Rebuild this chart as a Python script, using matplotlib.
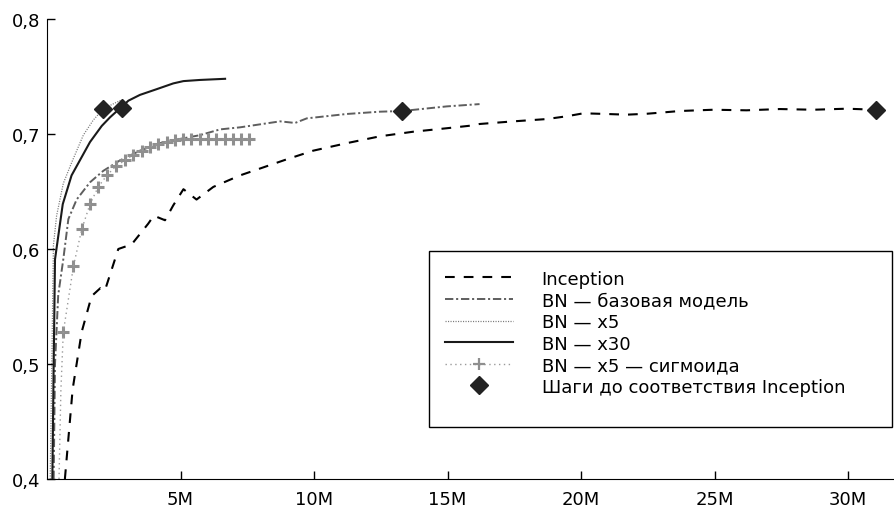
import numpy as np
import matplotlib
matplotlib.use('Agg')
import matplotlib.pyplot as plt
from matplotlib.patches import Rectangle

plt.rcParams['font.family'] = ['DejaVu Sans']
plt.rcParams['lines.scale_dashes'] = False

# steps in millions, accuracy
inc_x = [0.67, 0.96, 1.30, 1.67, 2.0, 2.17, 2.67, 3.17, 3.79, 4.0, 4.42, 4.73, 5.11, 5.6, 6.23, 7.23,
         8.98, 9.97, 11.22, 12.47, 13.72, 14.97, 15.84, 16.2, 17.47, 18.72, 19.46, 20.09, 20.96,
         21.7, 22.46, 23.2, 23.7, 24.96, 26.2, 27.45, 28.7, 29.95, 31.05]
inc_y = [0.400, 0.478, 0.528, 0.559, 0.566, 0.564, 0.600, 0.604, 0.622, 0.629, 0.625, 0.638, 0.652, 0.643,
         0.654, 0.664, 0.678, 0.6855, 0.692, 0.698, 0.702, 0.705, 0.7072, 0.7087, 0.711, 0.713,
         0.7154, 0.718, 0.7174, 0.7168, 0.7176, 0.719, 0.720, 0.7211, 0.7206, 0.7217, 0.7211,
         0.722, 0.7211]

base_x = [0.25, 0.3, 0.42, 0.61, 0.80, 1.11, 1.61, 2.11, 2.73, 3.48, 4.23, 4.98, 5.73, 6.48, 7.23,
          8.73, 9.29, 9.73, 11.22, 12.47, 13.31, 14.97, 16.2]
base_y = [0.400, 0.500, 0.560, 0.591, 0.626, 0.643, 0.658, 0.668, 0.677, 0.6855, 0.692, 0.6957,
          0.699, 0.704, 0.7058, 0.711, 0.7096, 0.7136, 0.7174, 0.7194, 0.720, 0.724, 0.726]

x5_x = [0.12, 0.18, 0.24, 0.36, 0.61, 0.92, 1.36, 1.73, 2.11, 2.73, 2.85]
x5_y = [0.400, 0.500, 0.603, 0.629, 0.657, 0.675, 0.699, 0.712, 0.722, 0.729, 0.7295]

x30_x = [0.2, 0.25, 0.30, 0.59, 0.92, 1.61, 2.05, 2.36, 3.05, 3.48, 4.11, 4.73, 5.11, 5.73, 6.67]
x30_y = [0.400, 0.500, 0.591, 0.639, 0.664, 0.693, 0.707, 0.7145, 0.729, 0.734, 0.739, 0.744,
         0.746, 0.747, 0.748]

sig_x = [0.45, 0.52, 0.61, 0.99, 1.30, 1.61, 1.92, 2.24, 2.58, 2.92, 3.23, 3.55, 3.86, 4.17, 4.48,
         4.79, 5.10, 5.41, 5.72, 6.03, 6.34, 6.65, 6.96, 7.27, 7.58]
sig_y = [0.400, 0.477, 0.5275, 0.585, 0.617, 0.639, 0.654, 0.664, 0.672, 0.677, 0.682, 0.6855,
         0.689, 0.691, 0.693, 0.6948, 0.6957, 0.6957, 0.6957, 0.6957, 0.6957, 0.6957, 0.6957,
         0.6957, 0.6957]

match_x = [2.11, 2.80, 13.31, 31.05]
match_y = [0.722, 0.7226, 0.720, 0.7211]

xticks = [5, 10, 15, 20, 25, 30]
xtick_labels = ['5M', '10M', '15M', '20M', '25M', '30M']
yticks = [0.4, 0.5, 0.6, 0.7, 0.8]
ytick_labels = ['0,4', '0,5', '0,6', '0,7', '0,8']

labels = ['Inception', 'BN — базовая модель', 'BN — x5', 'BN — x30', 'BN — x5 — сигмоида',
          'Шаги до соответствия Inception']

fig = plt.figure(figsize=(8.95, 5.10), dpi=100)
ax = fig.add_axes([47 / 895, 30 / 510, 848 / 895, 460 / 510])

ax.plot(inc_x, inc_y, color='black', lw=1.5, dashes=(7, 6.5), label=labels[0])
ax.plot(base_x, base_y, color='#5e5e5e', lw=1.4, dashes=(6, 2, 1.5, 2), label=labels[1])
ax.plot(x5_x, x5_y, color='#7a7a7a', lw=0.9, dashes=(0.8, 1.0), label=labels[2])
ax.plot(x30_x, x30_y, color='#1a1a1a', lw=1.5, label=labels[3])
ax.plot(sig_x[2:], sig_y[2:], color='#8f8f8f', lw=0, marker='+', markersize=9, mew=2.2)
ax.plot(sig_x, sig_y, color='#9a9a9a', lw=1.0, dashes=(1, 2.5))
ax.plot([], [], color='#9a9a9a', lw=1.0, dashes=(1, 2.5), marker='+', markersize=9,
        mew=1.6, markeredgecolor='#8f8f8f', label=labels[4])
ax.plot(match_x, match_y, ls='none', marker='D', markersize=9, color='#222222', label=labels[5])

ax.set_xlim(0, 31.76)
ax.set_ylim(0.4, 0.8)
ax.set_xticks(xticks)
ax.set_xticklabels(xtick_labels)
ax.set_yticks(yticks)
ax.set_yticklabels(ytick_labels)
ax.spines['top'].set_visible(False)
ax.spines['right'].set_visible(False)
ax.tick_params(direction='in', length=6, width=1, labelsize=13)
ax.tick_params(axis='x', pad=8)
ax.tick_params(axis='y', pad=5)

leg = ax.legend(loc='upper left', bbox_to_anchor=(0.469, 0.455), frameon=False, fontsize=13,
                handlelength=3.77, handletextpad=1.6, borderpad=0, borderaxespad=0,
                labelspacing=0.2)
ax.add_patch(Rectangle((0.451, 0.112), 0.546, 0.384, transform=ax.transAxes, fill=False,
                       lw=1, ec='black', clip_on=False))

fig.savefig('out.png', dpi=100)
